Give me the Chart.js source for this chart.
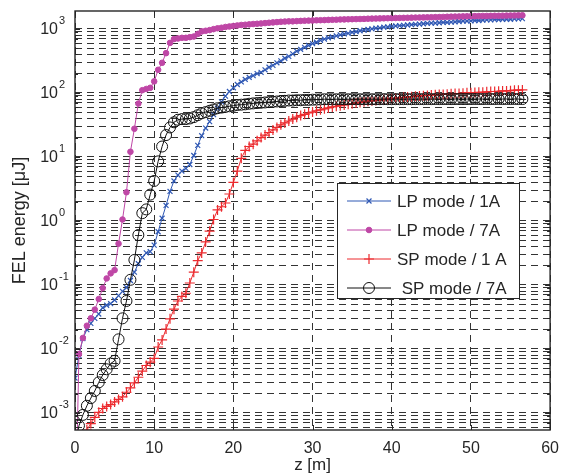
<!DOCTYPE html>
<html>
<head>
<meta charset="utf-8">
<script src="https://cdn.jsdelivr.net/npm/chart.js@4.4.1/dist/chart.umd.min.js"></script>
<style>
  html, body { margin: 0; padding: 0; background: #fff; }
  #wrap { width: 568px; height: 474px; }
</style>
</head>
<body>
<div id="wrap"><canvas id="fel"></canvas></div>
<script>
// positions along the undulator [m]
const zPos = [
  0, 0.5, 1, 1.5, 2, 2.5, 3, 3.5, 4, 4.5,
  5, 5.5, 6, 6.5, 7, 7.5, 8, 8.5, 9, 9.5,
  10, 10.5, 11, 11.5, 12, 12.5, 13, 13.5, 14, 14.5,
  15, 15.5, 16, 16.5, 17, 17.5, 18, 18.5, 19, 19.5,
  20, 20.5, 21, 21.5, 22, 22.5, 23, 23.5, 24, 24.5,
  25, 25.5, 26, 26.5, 27, 27.5, 28, 28.5, 29, 29.5,
  30, 30.5, 31, 31.5, 32, 32.5, 33, 33.5, 34, 34.5,
  35, 35.5, 36, 36.5, 37, 37.5, 38, 38.5, 39, 39.5,
  40, 40.5, 41, 41.5, 42, 42.5, 43, 43.5, 44, 44.5,
  45, 45.5, 46, 46.5, 47, 47.5, 48, 48.5, 49, 49.5,
  50, 50.5, 51, 51.5, 52, 52.5, 53, 53.5, 54, 54.5,
  55, 55.5, 56, 56.5
];

// FEL energy [uJ]
const lp1A = [
  0.0035, 0.0079, 0.0145, 0.020, 0.025, 0.030, 0.035, 0.044, 0.048, 0.051,
  0.058, 0.068, 0.079, 0.091, 0.117, 0.158, 0.214, 0.269, 0.316, 0.331,
  0.417, 0.676, 1.10, 1.74, 2.88, 4.2, 5.2, 6.0, 6.6, 7.6,
  10.5, 15.1, 21.4, 28.2, 35.5, 45.7, 57.5, 72.4, 89, 105,
  120, 135, 148, 162, 174, 186, 200, 209, 229, 251,
  269, 295, 316, 347, 372, 407, 447, 479, 513, 550,
  589, 617, 661, 692, 724, 750, 776, 804, 832, 851,
  881, 902, 933, 955, 977, 1000, 1023, 1035, 1060, 1070,
  1096, 1109, 1122, 1135, 1148, 1161, 1175, 1189, 1202, 1216,
  1230, 1230, 1245, 1259, 1259, 1274, 1288, 1303, 1318, 1318,
  1334, 1349, 1349, 1365, 1380, 1380, 1396, 1396, 1413, 1413,
  1413, 1429, 1429, 1445
];

const lp7A = [
  0.00001, 0.0083, 0.0148, 0.023, 0.030, 0.041, 0.060, 0.089, 0.126, 0.151,
  0.17, 0.44, 1.05, 2.8, 12, 27.5, 68, 110, 115, 120,
  151, 229, 295, 417, 603, 692, 708, 724, 724, 741,
  759, 832, 912, 933, 955, 990, 1020, 1040, 1070, 1090,
  1110, 1130, 1150, 1160, 1175, 1190, 1200, 1215, 1230, 1245,
  1260, 1275, 1290, 1300, 1310, 1310, 1320, 1330, 1340, 1345,
  1350, 1360, 1365, 1370, 1380, 1385, 1390, 1400, 1405, 1410,
  1415, 1420, 1425, 1430, 1440, 1445, 1450, 1455, 1460, 1465,
  1470, 1475, 1480, 1485, 1490, 1495, 1500, 1505, 1510, 1515,
  1520, 1525, 1530, 1535, 1545, 1550, 1555, 1560, 1565, 1570,
  1575, 1580, 1585, 1590, 1590, 1595, 1600, 1600, 1605, 1610,
  1615, 1620, 1625, 1630
];

const sp1A = [
  0.00001, 0.0001, 0.0003, 0.00054, 0.00068, 0.00085, 0.00102, 0.00117, 0.00126, 0.00135,
  0.00148, 0.00162, 0.00178, 0.0021, 0.00245, 0.00295, 0.0036, 0.0045, 0.0055, 0.0062,
  0.0071, 0.0107, 0.0138, 0.0204, 0.0295, 0.0417, 0.056, 0.066, 0.074, 0.107,
  0.158, 0.24, 0.316, 0.468, 0.69, 1.05, 1.48, 1.66, 1.9, 2.63,
  3.98, 6.0, 9.5, 12.6, 14.5, 15.8, 17.8, 20, 21.9, 24,
  26.3, 28.8, 31.6, 33.9, 36.3, 38.9, 41.7, 44.2, 46.2, 48.4,
  50.1, 52.5, 54.3, 56.2, 58.2, 60.3, 61.7, 63.1, 64.6, 66.1,
  67.6, 69.2, 70.8, 72.4, 74.1, 75, 75.9, 77.6, 78.5, 79.4,
  81.3, 82.2, 83.2, 85.1, 86.1, 87.1, 88.1, 89.1, 90.2, 91.2,
  92.3, 93.3, 94.4, 94.4, 95.5, 96.6, 97.7, 97.7, 98.9, 100,
  100, 101, 102, 102, 104, 105, 105, 106, 107, 107,
  108, 110, 110, 111
];

const sp7A = [
  0.0003, 0.00063, 0.00093, 0.00129, 0.0017, 0.0022, 0.0030, 0.0039, 0.0048, 0.0059,
  0.0065, 0.0141, 0.030, 0.056, 0.120, 0.245, 0.60, 1.32, 1.51, 2.57,
  4.2, 8.5, 14.5, 21.9, 28.8, 34.7, 38, 38.9, 38.9, 39.8,
  41.7, 44.7, 47.9, 50, 52.5, 55, 57.5, 58.9, 60.3, 61.7,
  63, 64.6, 65.3, 66.1, 67.6, 68.4, 69.2, 70, 70.8, 71.6,
  72.4, 73.3, 74.1, 75, 75.9, 75.9, 76.7, 76.7, 77.6, 77.6,
  78.2, 78.5, 79, 79.4, 79.4, 79.2, 79.4, 79.6, 79.4, 79.4,
  79.6, 79.4, 79.4, 79.6, 79.6, 79.4, 79.6, 79.6, 79.8, 79.6,
  79.6, 79.8, 79.6, 79.8, 79.8, 79.6, 79.8, 79.8, 79.8, 80,
  79.8, 80, 79.8, 80, 80, 79.8, 80, 80, 80, 80,
  80, 80.2, 80, 80, 80.2, 80, 80, 80.2, 80, 80.2,
  80, 80.2, 80, 80
];

const seriesLabels = ['LP mode / 1A', 'LP mode / 7A', 'SP mode / 1 A', ' SP mode / 7A'];
const xTickValues = [0, 10, 20, 30, 40, 50, 60];
const yDecades = [-3, -2, -1, 0, 1, 2, 3];

const FONT = '"Liberation Sans", Arial, sans-serif';
const TXT = '#262626';

function toPoints(vals) {
  return zPos.map((z, i) => ({ x: z, y: vals[i] }));
}

// minor + major positions for the log grid
const yGridValues = [];
for (let d = -4; d <= 3; d++) {
  for (let m = 1; m <= 9; m++) {
    const v = m * Math.pow(10, d);
    if (v >= 5.4e-4 && v <= 1900) yGridValues.push(v);
  }
}

// box, inward ticks, 10^n labels and legend
const matlabPlugin = {
  id: 'matlab',
  afterDatasetsDraw(chart) {
    const { ctx, chartArea: a, scales: { x, y } } = chart;
    ctx.save();
    ctx.strokeStyle = TXT;
    ctx.lineWidth = 1;
    ctx.setLineDash([]);
    ctx.beginPath();
    for (const v of xTickValues) {
      const px = Math.round(x.getPixelForValue(v)) + 0.5;
      ctx.moveTo(px, a.bottom); ctx.lineTo(px, a.bottom - 5);
      ctx.moveTo(px, a.top); ctx.lineTo(px, a.top + 5);
    }
    for (const v of yGridValues) {
      const py = Math.round(y.getPixelForValue(v)) + 0.5;
      const len = Math.abs(Math.log10(v) - Math.round(Math.log10(v))) < 1e-9 ? 5 : 3;
      ctx.moveTo(a.left, py); ctx.lineTo(a.left + len, py);
      ctx.moveTo(a.right, py); ctx.lineTo(a.right - len, py);
    }
    ctx.stroke();
    ctx.lineWidth = 1.4;
    ctx.strokeRect(a.left, a.top, a.right - a.left, a.bottom - a.top);

    // legend
    const bx = 337, by = 183, bw = 182, bh = 115;
    ctx.fillStyle = '#fff';
    ctx.fillRect(bx, by, bw, bh);
    ctx.lineWidth = 1;
    ctx.strokeStyle = TXT;
    ctx.strokeRect(bx + 0.5, by + 0.5, bw, bh);
    chart.data.datasets.forEach((ds, i) => {
      const ry = 201 + i * 29;
      ctx.strokeStyle = ds.borderColor;
      ctx.lineWidth = 1;
      ctx.beginPath();
      ctx.moveTo(347, ry); ctx.lineTo(391, ry);
      ctx.stroke();
      ctx.fillStyle = ds.pointBackgroundColor;
      ctx.lineWidth = ds.pointBorderWidth;
      Chart.helpers.drawPoint(ctx, {
        pointStyle: ds.pointStyle, radius: ds.pointRadius,
        borderWidth: ds.pointBorderWidth, rotation: 0
      }, 369, ry);
      ctx.fillStyle = TXT;
      ctx.font = '17px ' + FONT;
      ctx.textAlign = 'left';
      ctx.textBaseline = 'middle';
      ctx.fillText(ds.label, 397, ry + 1);
    });
    ctx.restore();
  },
  afterDraw(chart) {
    const { ctx, scales: { y } } = chart;
    ctx.save();
    ctx.fillStyle = TXT;
    ctx.textBaseline = 'alphabetic';
    for (const d of yDecades) {
      const py = y.getPixelForValue(Math.pow(10, d));
      ctx.font = '16px ' + FONT;
      ctx.textAlign = 'right';
      ctx.fillText('10', 58, py + 5);
      ctx.font = '11px ' + FONT;
      ctx.textAlign = 'left';
      ctx.fillText(String(d), 59, py - 5);
    }
    ctx.restore();
  }
};

const gridDash = [7, 5];

new Chart(document.getElementById('fel'), {
  type: 'line',
  data: {
    datasets: [
      {
        label: seriesLabels[0], data: toPoints(lp1A), order: 4,
        borderColor: '#2f58b4', backgroundColor: '#2f58b4', pointBackgroundColor: '#2f58b4',
        borderWidth: 1, pointStyle: 'crossRot', pointRadius: 3.5, pointBorderWidth: 1.2
      },
      {
        label: seriesLabels[1], data: toPoints(lp7A), order: 3,
        borderColor: '#bf47a6', backgroundColor: '#bf47a6', pointBackgroundColor: '#bf47a6',
        borderWidth: 1, pointStyle: 'circle', pointRadius: 2.8, pointBorderWidth: 1
      },
      {
        label: seriesLabels[2], data: toPoints(sp1A), order: 2,
        borderColor: '#ec2a2e', backgroundColor: '#ec2a2e', pointBackgroundColor: '#ec2a2e',
        borderWidth: 1, pointStyle: 'cross', pointRadius: 5, pointBorderWidth: 1.2
      },
      {
        label: seriesLabels[3], data: toPoints(sp7A), order: 1,
        borderColor: '#111', backgroundColor: 'rgba(0,0,0,0)', pointBackgroundColor: 'rgba(0,0,0,0)',
        borderWidth: 1, pointStyle: 'circle', pointRadius: 5.5, pointBorderWidth: 1
      }
    ]
  },
  options: {
    responsive: true,
    maintainAspectRatio: false,
    animation: false,
    layout: { padding: { top: 11, right: 10, left: 0, bottom: 0 } },
    plugins: { legend: { display: false }, tooltip: { enabled: false } },
    elements: { line: { tension: 0 } },
    scales: {
      x: {
        type: 'linear', min: 0, max: 60,
        afterBuildTicks: s => { s.ticks = xTickValues.map(v => ({ value: v })); },
        afterFit: s => { s.height = 44; },
        grid: { color: '#333', lineWidth: 1, drawTicks: false },
        border: { display: false, dash: gridDash },
        ticks: { color: TXT, font: { family: FONT, size: 16 }, padding: 9, maxRotation: 0 },
        title: { display: true, text: 'z [m]', color: TXT, font: { family: FONT, size: 17 }, padding: { top: 0, bottom: -2 } }
      },
      y: {
        type: 'logarithmic', min: 5.4e-4, max: 1900,
        afterBuildTicks: s => { s.ticks = yGridValues.map(v => ({ value: v })); },
        afterFit: s => { s.width = 75; },
        grid: { color: '#333', lineWidth: 1, drawTicks: false },
        border: { display: false, dash: gridDash },
        ticks: { display: false },
        title: { display: true, text: 'FEL energy [μJ]', color: TXT, font: { family: FONT, size: 18 }, padding: { top: 9, bottom: 0 } }
      }
    }
  },
  plugins: [matlabPlugin]
});
</script>
</body>
</html>
